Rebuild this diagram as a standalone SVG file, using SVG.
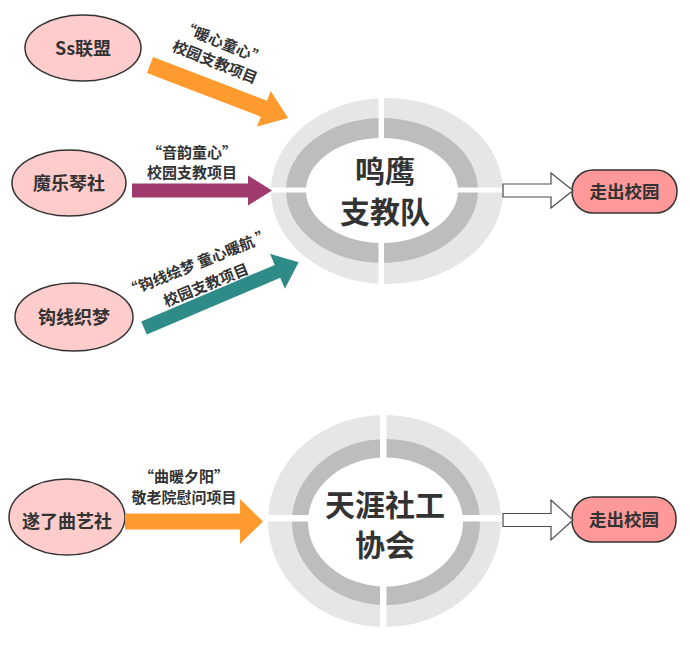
<svg xmlns="http://www.w3.org/2000/svg" width="690" height="645" viewBox="0 0 690 645">
<style>
  text { font-family: "Noto Sans CJK SC", "Noto Sans", sans-serif; font-weight: bold; fill: #333333; text-anchor: middle; }
  .src { fill: #ffcccc; stroke: #333333; stroke-width: 1.5; }
  .srct { font-size: 18px; }
  .lbl { font-size: 15px; }
  .ring1 { fill: #e6e6e6; }
  .ring2 { fill: #bdbdbd; }
  .ring3 { fill: #ffffff; }
  .gap { fill: #ffffff; }
  .hub { font-size: 30px; }
  .exit { fill: #ffffff; stroke: #4a4a4a; stroke-width: 1.2; }
  .dest { fill: #ff9999; stroke: #333333; stroke-width: 1.5; }
  .destt { font-size: 17.5px; }
</style>

<g id="hub-mingying">
  <ellipse class="ring1" cx="387" cy="191" rx="116" ry="93"/>
  <ellipse class="ring2" cx="382" cy="190.5" rx="96" ry="72.5"/>
  <ellipse class="ring3" cx="382" cy="190.5" rx="76" ry="52.5"/>
  <rect class="gap" x="378.5" y="95" width="5.5" height="192"/>
  <rect class="gap" x="268" y="187.5" width="238" height="5"/>
  <text class="hub" x="385" y="182">鸣鹰</text>
  <text class="hub" x="385" y="222.5">支教队</text>
</g>

<g id="hub-tianya">
  <ellipse class="ring1" cx="384.5" cy="521" rx="116.5" ry="106"/>
  <ellipse class="ring2" cx="386" cy="522" rx="94" ry="83"/>
  <ellipse class="ring3" cx="385.5" cy="522" rx="77.5" ry="64.5"/>
  <rect class="gap" x="380" y="412" width="6.5" height="218"/>
  <rect class="gap" x="265" y="515" width="240" height="6.5"/>
  <text class="hub" x="385" y="516">天涯社工</text>
  <text class="hub" x="385" y="556">协会</text>
</g>

<g id="src-ss">
  <ellipse class="src" cx="83" cy="48" rx="58" ry="33"/>
  <text class="srct" x="83" y="54.5">Ss联盟</text>
</g>
<g id="src-moyue">
  <ellipse class="src" cx="69" cy="183" rx="57" ry="33"/>
  <text class="srct" x="69" y="189.5">魔乐琴社</text>
</g>
<g id="src-gouxian">
  <ellipse class="src" cx="74" cy="317" rx="59" ry="34"/>
  <text class="srct" x="74" y="323.5">钩线织梦</text>
</g>
<g id="src-suile">
  <ellipse class="src" cx="67" cy="517" rx="58" ry="38"/>
  <text class="srct" x="67" y="528">遂了曲艺社</text>
</g>

<g id="dest-top">
  <rect class="dest" x="572" y="170" width="105" height="43" rx="21"/>
  <text class="destt" x="624.5" y="198">走出校园</text>
</g>
<g id="dest-bottom">
  <rect class="dest" x="572" y="497" width="104" height="45" rx="21"/>
  <text class="destt" x="624" y="526">走出校园</text>
</g>

<g id="connectors">
  <polygon fill="#ff9a2e" transform="translate(150,65) rotate(21)" points="0,-8.5 122,-8.5 122,-19 148,0 122,19 122,8.5 0,8.5"/>
  <polygon fill="#a03a6c" points="132,183.5 248,183.5 248,175.5 272,190.5 248,205.5 248,197.5 132,197.5"/>
  <polygon fill="#2e8b87" transform="translate(144,328) rotate(-23)" points="0,-7 145,-7 145,-19 168,0 145,19 145,7 0,7"/>
  <polygon fill="#ff9a2e" points="125,513.5 240,513.5 240,499 263,521.5 240,544 240,529.5 125,529.5"/>
  <polygon class="exit" points="503,184 551,184 551,173 573,190.5 551,208 551,197 503,197"/>
  <polygon class="exit" points="503,513.5 551,513.5 551,500 573,520 551,540 551,526.5 503,526.5"/>

  <text class="lbl" transform="translate(223,43) rotate(22)" y="5.5">“暖心童心”</text>
  <text class="lbl" transform="translate(215,62) rotate(22)" y="5.5">校园支教项目</text>
  <text class="lbl" x="192" y="157.5">“音韵童心”</text>
  <text class="lbl" x="192" y="177.5">校园支教项目</text>
  <text class="lbl" transform="translate(198,263) rotate(-22)" y="5.5">“钩线绘梦 童心暖航 ”</text>
  <text class="lbl" transform="translate(206,285) rotate(-22)" y="5.5">校园支教项目</text>
  <text class="lbl" x="184" y="481.5">“曲暖夕阳”</text>
  <text class="lbl" x="184" y="503">敬老院慰问项目</text>
</g>
</svg>
